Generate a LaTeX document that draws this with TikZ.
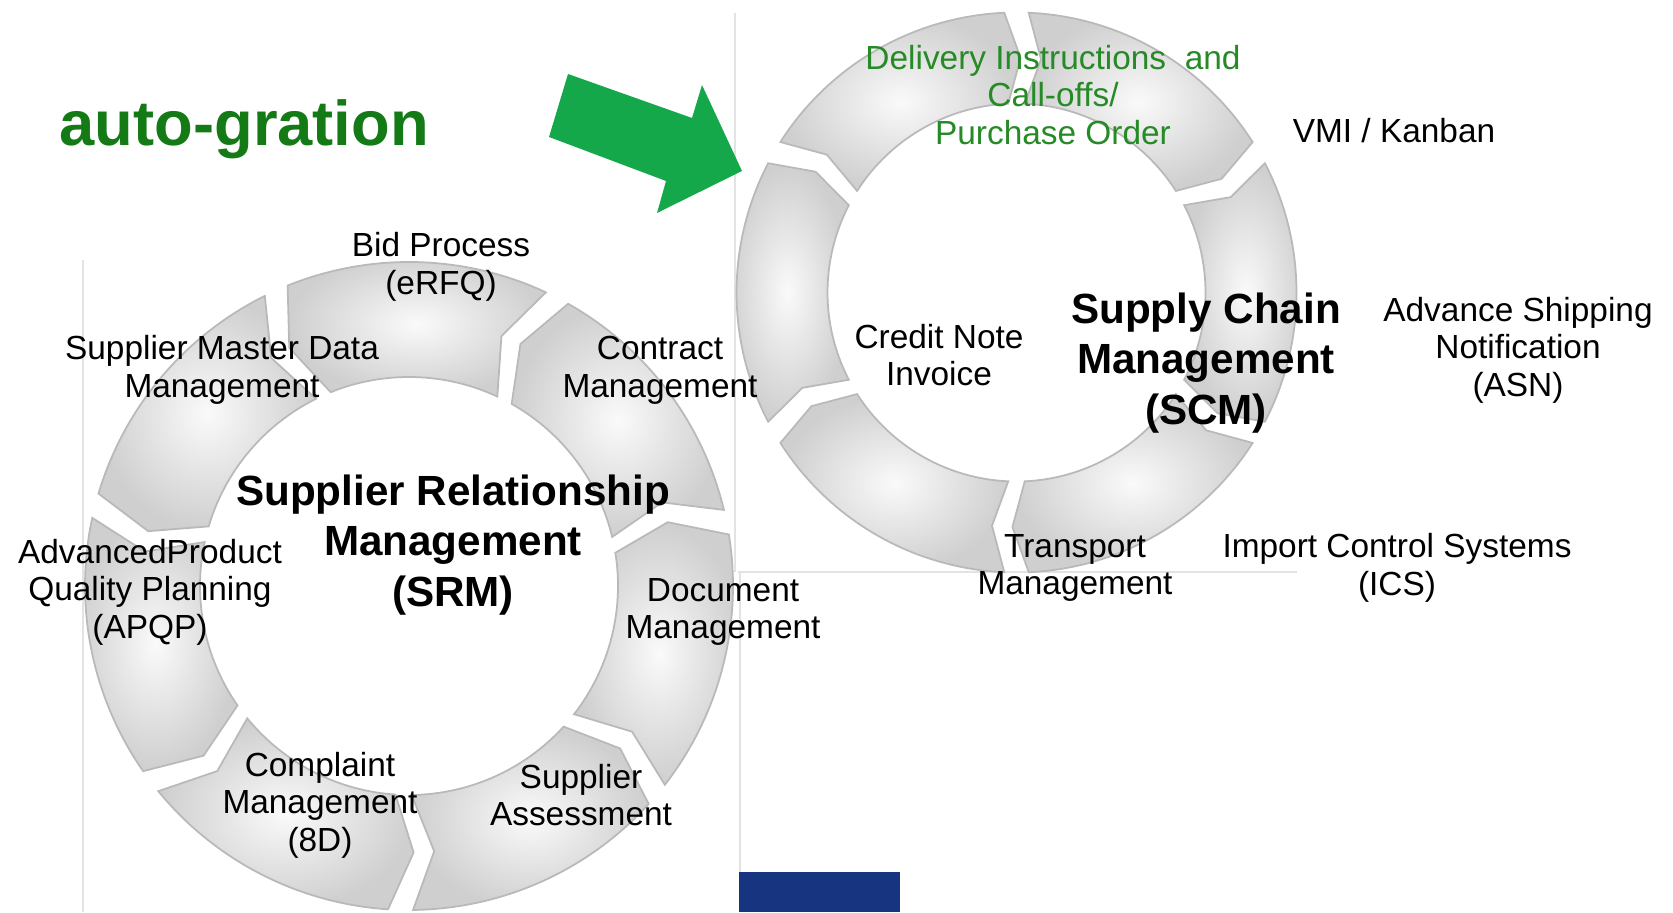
\documentclass[tikz,border=0pt]{standalone}
\usepackage{fontspec}
\setmainfont{Liberation Sans}
\usetikzlibrary{positioning}

\definecolor{arrowgreen}{RGB}{20,168,74}
\definecolor{autogreen}{RGB}{19,122,22}
\definecolor{callgreen}{RGB}{38,138,38}
\definecolor{navybox}{RGB}{22,52,128}

\tikzset{
  seg/.style = {draw=gray!55, line width=0.5pt, inner color=gray!4, outer color=gray!38},
  frame/.style = {draw=gray!22, line width=0.6pt},
  lbl/.style = {inner sep=0pt, align=center, font=\fontsize{9.5}{10.7}\selectfont},
  ringname/.style = {inner sep=0pt, align=center, font=\fontsize{12}{14.4}\selectfont\bfseries}
}

\begin{document}
\begin{tikzpicture}[x=0.01cm, y=0.01cm]
  \useasboundingbox (0,0) rectangle (1673,912);

  % frames of the pasted pictures
  \draw[frame] (83,652) -- (83,0);
  \draw[frame] (735,899) -- (735,340);
  \draw[frame] (738,340) -- (1297,340);
  \draw[frame] (740,340) -- (740,40);
  \fill[navybox] (739,0) rectangle (900,40);

  % SRM ring, arrows run counter-clockwise
  \begin{scope}[shift={(409,326)}]
    \foreach \k in {0,...,6} {
      \pgfmathsetmacro\a{65+51.43*\k}
      \pgfmathsetmacro\b{\a+47}
      \shadedraw[seg] (\a:324) arc[start angle=\a, end angle=\b, radius=324]
        -- ({\b+4.7}:266.5) -- (\b:209)
        arc[start angle=\b, end angle=\a, radius=209]
        -- ({\a+4.7}:266.5) -- cycle;
    }
  \end{scope}

  % SCM ring, arrows run clockwise
  \begin{scope}[shift={(1016.5,619.5)}]
    \foreach \k in {0,...,5} {
      \pgfmathsetmacro\a{32.5+60*\k}
      \pgfmathsetmacro\b{\a+55}
      \shadedraw[seg] (\a:280) arc[start angle=\a, end angle=\b, radius=280]
        -- ({\b-3.5}:234.5) -- (\b:189)
        arc[start angle=\b, end angle=\a, radius=189]
        -- ({\a-3.5}:234.5) -- cycle;
    }
  \end{scope}

  % big green arrow
  \fill[arrowgreen] (568,838) -- (692,794) -- (702,827) -- (742,741)
    -- (657,699) -- (666,731) -- (549,775) -- cycle;

  \node[inner sep=0pt, anchor=base west, text=autogreen,
    font=\fontsize{18}{20}\selectfont\bfseries] (auto) at (59,766) {auto-gration};

  % SRM labels
  \node[ringname] (srm) at (453,367) {Supplier Relationship\\Management\\(SRM)};
  \node[lbl] (bid) at (441,645) {Bid Process\\(eRFQ)};
  \node[lbl] (master) at (222,542) {Supplier Master Data\\Management};
  \node[lbl] (contract) at (660,542) {Contract\\Management};
  \node[lbl] (apqp) at (150,320) {AdvancedProduct\\Quality Planning\\(APQP)};
  \node[lbl] (document) at (723,300) {Document\\Management};
  \node[lbl] (complaint) at (320,107) {Complaint\\Management\\(8D)};
  \node[lbl] (assess) at (581,117) {Supplier\\Assessment};

  % SCM labels
  \node[ringname] (scm) at (1206,549) {Supply Chain\\Management\\(SCM)};
  \node[lbl, text=callgreen] (calloff) at (1053,817) {Delivery Instructions~ and\\Call-offs/\\Purchase Order};
  \node[lbl] (vmi) at (1394,781) {VMI / Kanban};
  \node[lbl] (credit) at (939,557) {Credit Note\\Invoice};
  \node[lbl] (asn) at (1518,562) {Advance Shipping\\Notification\\(ASN)};
  \node[lbl] (transport) at (1075,344) {Transport\\Management};
  \node[lbl] (ics) at (1397,344) {Import Control Systems\\(ICS)};
\end{tikzpicture}
\end{document}
